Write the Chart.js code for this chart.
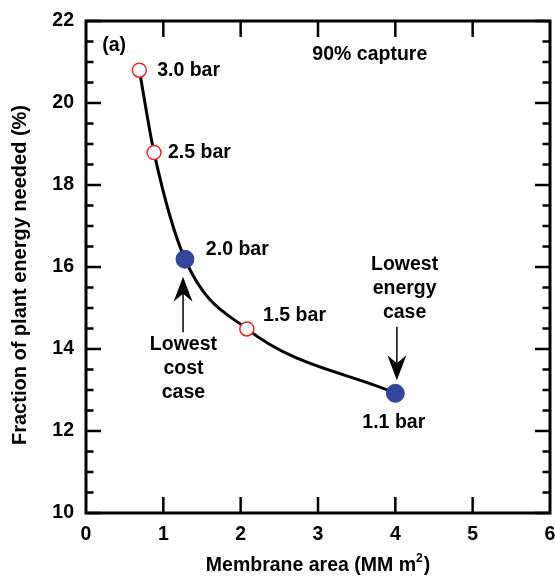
<!DOCTYPE html>
<html>
<head>
<meta charset="utf-8">
<script src="https://cdn.jsdelivr.net/npm/chart.js@4/dist/chart.umd.min.js"></script>
<style>
html,body{margin:0;padding:0;background:#fff;}
#wrap{width:555px;height:580px;}
</style>
</head>
<body>
<div id="wrap"><canvas id="c" width="555" height="580"></canvas></div>
<script>
// Data
const pressures = ['3.0 bar', '2.5 bar', '2.0 bar', '1.5 bar', '1.1 bar'];
const membraneArea = [0.69, 0.88, 1.28, 2.08, 4.00];
const energyFraction = [20.8, 18.79, 16.19, 14.49, 12.92];
const highlighted = [false, false, true, false, true];
const xTicks = [0, 1, 2, 3, 4, 5, 6];
const yTicks = [10, 12, 14, 16, 18, 20, 22];
const yMinorStep = 0.5;

const FONT = '"Liberation Sans", Arial, Helvetica, sans-serif';
const FS = 19.5;
const BLUE = '#33449c';
const RED = '#e8262a';

const pointLabels = [
  {text: pressures[0], x: 0.92, y: 20.8, align: 'left'},
  {text: pressures[1], x: 1.06, y: 18.79, align: 'left'},
  {text: pressures[2], x: 1.55, y: 16.42, align: 'left'},
  {text: pressures[3], x: 2.29, y: 14.82, align: 'left'},
  {text: pressures[4], x: 3.98, y: 12.2, align: 'center'}
];
const notes = [
  {lines: ['(a)'], x: 0.21, y: 21.4, align: 'left'},
  {lines: ['90% capture'], x: 3.67, y: 21.17, align: 'center'},
  {lines: ['Lowest', 'cost', 'case'], x: 1.26, y: 14.1, align: 'center'},
  {lines: ['Lowest', 'energy', 'case'], x: 4.12, y: 16.07, align: 'center'}
];
const arrows = [
  {x: 1.255, yFrom: 14.41, yTo: 15.76},
  {x: 4.02, yFrom: 14.54, yTo: 13.24}
];

const decor = {
  id: 'decor',
  afterDraw(chart) {
    const ctx = chart.ctx;
    const xs = chart.scales.x, ys = chart.scales.y;
    const a = chart.chartArea;
    ctx.save();
    ctx.strokeStyle = '#000';
    ctx.lineWidth = 2.5;
    ctx.beginPath();
    xTicks.forEach(v => {
      if (v === xTicks[0] || v === xTicks[xTicks.length - 1]) return;
      const px = xs.getPixelForValue(v);
      ctx.moveTo(px, a.bottom); ctx.lineTo(px, a.bottom - 16);
      ctx.moveTo(px, a.top); ctx.lineTo(px, a.top + 16);
    });
    for (let v = yTicks[0]; v <= yTicks[yTicks.length - 1] + 1e-9; v += yMinorStep) {
      const py = ys.getPixelForValue(v);
      const major = yTicks.some(t => Math.abs(t - v) < 1e-6);
      const len = major ? 15 : 7.5;
      ctx.moveTo(a.left, py); ctx.lineTo(a.left + len, py);
      ctx.moveTo(a.right, py); ctx.lineTo(a.right - len, py);
    }
    ctx.stroke();
    ctx.lineWidth = 3;
    ctx.strokeRect(a.left, a.top, a.right - a.left, a.bottom - a.top);

    ctx.fillStyle = '#000';
    ctx.font = 'bold ' + FS + 'px ' + FONT;
    ctx.textBaseline = 'middle';
    pointLabels.forEach(l => {
      ctx.textAlign = l.align;
      ctx.fillText(l.text, xs.getPixelForValue(l.x), ys.getPixelForValue(l.y));
    });
    notes.forEach(n => {
      ctx.textAlign = n.align;
      const x0 = xs.getPixelForValue(n.x), y0 = ys.getPixelForValue(n.y);
      n.lines.forEach((t, i) => ctx.fillText(t, x0, y0 + i * 24));
    });

    arrows.forEach(ar => {
      const x = xs.getPixelForValue(ar.x);
      const y1 = ys.getPixelForValue(ar.yFrom);
      const y2 = ys.getPixelForValue(ar.yTo);
      const dir = Math.sign(y2 - y1);
      const hl = 25, hw = 9.5, notch = 8;
      ctx.strokeStyle = '#000';
      ctx.lineWidth = 1.5;
      ctx.beginPath();
      ctx.moveTo(x, y1);
      ctx.lineTo(x, y2 - dir * (hl - notch));
      ctx.stroke();
      ctx.beginPath();
      ctx.moveTo(x, y2);
      ctx.lineTo(x - hw, y2 - dir * hl);
      ctx.lineTo(x, y2 - dir * (hl - notch));
      ctx.lineTo(x + hw, y2 - dir * hl);
      ctx.closePath();
      ctx.fillStyle = '#000';
      ctx.fill();
    });

    const cx = (a.left + a.right) / 2;
    ctx.textBaseline = 'middle';
    ctx.textAlign = 'left';
    ctx.font = 'bold ' + FS + 'px ' + FONT;
    const wMain = ctx.measureText('Membrane area (MM m').width;
    const wParen = ctx.measureText(')').width;
    ctx.font = 'bold 12px ' + FONT;
    const wSup = ctx.measureText('2').width;
    const total = wMain + wSup + wParen + 1;
    let sx = cx - total / 2;
    ctx.font = 'bold ' + FS + 'px ' + FONT;
    ctx.fillText('Membrane area (MM m', sx, 566);
    sx += wMain;
    ctx.font = 'bold 12px ' + FONT;
    ctx.fillText('2', sx, 559);
    sx += wSup + 1;
    ctx.font = 'bold ' + FS + 'px ' + FONT;
    ctx.fillText(')', sx, 566);

    ctx.translate(20, (a.top + a.bottom) / 2 + 8);
    ctx.rotate(-Math.PI / 2);
    ctx.textAlign = 'center';
    ctx.font = 'bold 20px ' + FONT;
    ctx.fillText('Fraction of plant energy needed (%)', 0, 0);
    ctx.restore();
  }
};

new Chart(document.getElementById('c'), {
  type: 'line',
  data: {
    datasets: [{
      data: membraneArea.map((x, i) => ({x: x, y: energyFraction[i]})),
      borderColor: '#000',
      borderWidth: 3,
      cubicInterpolationMode: 'monotone',
      fill: false,
      pointRadius: highlighted.map(h => h ? 9 : 7),
      pointBackgroundColor: highlighted.map(h => h ? BLUE : '#fff'),
      pointBorderColor: highlighted.map(h => h ? BLUE : RED),
      pointBorderWidth: highlighted.map(h => h ? 1 : 1.5),
      pointHoverRadius: highlighted.map(h => h ? 9 : 7)
    }]
  },
  options: {
    responsive: false,
    animation: false,
    devicePixelRatio: 1,
    layout: {autoPadding: false, padding: {top: 21, right: 5, left: 0, bottom: 0}},
    plugins: {legend: {display: false}, tooltip: {enabled: false}},
    scales: {
      x: {
        type: 'linear', min: 0, max: 6,
        afterBuildTicks: s => { s.ticks = xTicks.map(v => ({value: v})); },
        afterFit: s => { s.height = 67; s.paddingLeft = 0; s.paddingRight = 0; },
        grid: {display: false, drawTicks: false},
        border: {display: false},
        ticks: {color: '#000', padding: 10, font: {family: FONT, size: FS, weight: 'bold'}, maxRotation: 0}
      },
      y: {
        type: 'linear', min: 10, max: 22,
        afterBuildTicks: s => { s.ticks = yTicks.map(v => ({value: v})); },
        afterFit: s => { s.width = 86; s.paddingTop = 0; s.paddingBottom = 0; },
        grid: {display: false, drawTicks: false},
        border: {display: false},
        ticks: {color: '#000', padding: 12, font: {family: FONT, size: FS, weight: 'bold'}}
      }
    }
  },
  plugins: [decor]
});
</script>
</body>
</html>
